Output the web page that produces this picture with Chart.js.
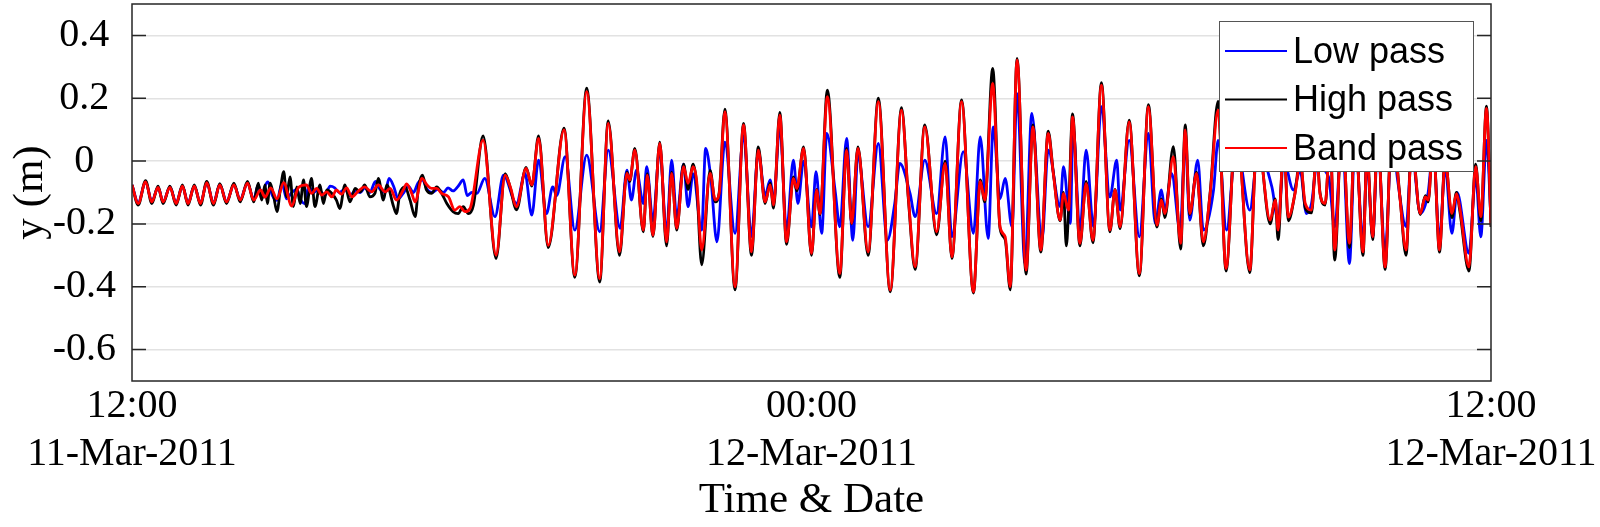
<!DOCTYPE html>
<html lang="en">
<head>
  <meta charset="UTF-8" />
  <title>Filtered water level record, 11-12 Mar 2011</title>
  <script src="https://cdn.jsdelivr.net/npm/chart.js"></script>
  <style>
    body {
      margin: 0;
      background: #fff;
    }
    .chart-box {
      width: 1600px;
      height: 527px;
    }
  </style>
</head>
<body>
  <div class="chart-box">
    <canvas id="waveChart" width="1600" height="527"></canvas>
  </div>

  <script>
    // x axis: hours after 12:00 on 11-Mar-2011
    const xTickValues = [0, 12, 24];
    const xTickTimes = ["12:00", "00:00", "12:00"];
    const xTickDates = ["11-Mar-2011", "12-Mar-2011", "12-Mar-2011"];
    const yTickValues = [-0.6, -0.4, -0.2, 0, 0.2, 0.4];
    const seriesNames = ["Low pass", "High pass", "Band pass"];

    // band pass (red)
    const bandT = [
      0.00, 0.11, 0.24, 0.35, 0.46, 0.55, 0.67, 0.78, 0.89, 0.99, 1.10, 1.21, 1.32, 1.44, 1.55, 1.67, 1.80, 1.91, 2.04, 2.15, 2.27, 2.35, 2.45, 2.56, 2.68, 2.82, 2.94,
      3.08, 3.17, 3.26, 3.35, 3.44, 3.53, 3.61, 3.70, 3.79, 3.88, 4.00, 4.11, 4.23, 4.35, 4.47, 4.56, 4.67, 4.79, 4.85, 4.94, 5.00, 5.12, 5.21, 5.29, 5.38, 5.47, 5.59, 5.70, 5.79, 5.88, 5.97,
      6.20, 6.43, 6.59, 6.68, 6.79, 6.96, 7.06, 7.18, 7.35, 7.63, 7.82, 8.03, 8.26, 8.41, 8.61, 8.74, 8.79, 8.88, 9.03,
      9.10, 9.20, 9.32, 9.44, 9.53, 9.62, 9.74, 9.82, 9.91, 9.97, 10.06, 10.21, 10.30, 10.37, 10.47, 10.65, 10.80, 10.94, 11.06, 11.18, 11.27, 11.33, 11.44, 11.56, 11.68, 11.74, 11.86, 12.00,
      12.09, 12.15, 12.28, 12.50, 12.62, 12.71, 12.82, 13.00, 13.18, 13.39, 13.59, 13.71, 13.83, 14.00, 14.21, 14.36, 14.48, 14.65, 14.86, 14.98, 15.06,
      15.20, 15.33, 15.42, 15.51, 15.63, 15.79, 15.91, 16.05, 16.18, 16.27, 16.39, 16.45, 16.54, 16.61, 16.74, 16.85, 16.97, 17.12, 17.27, 17.36, 17.45, 17.61, 17.79, 17.95,
      18.10, 18.18, 18.24, 18.39, 18.52, 18.60, 18.68, 18.80, 18.92, 19.04, 19.18, 19.32, 19.50, 19.74, 19.87, 20.10, 20.19, 20.24, 20.34, 20.42, 20.54, 20.63, 20.72, 20.83, 20.92,
      20.98, 21.07, 21.16, 21.24, 21.37, 21.50, 21.60, 21.74, 21.81, 21.91, 22.00, 22.13, 22.25, 22.39, 22.50, 22.60, 22.75, 22.84, 22.89, 22.98, 23.09, 23.19, 23.31, 23.39, 23.45, 23.61, 23.73, 23.82, 23.92, 24.00
    ];
    const bandY = [
      -0.076, -0.135, -0.066, -0.13, -0.084, -0.13, -0.084, -0.135, -0.08, -0.135, -0.08, -0.135, -0.069, -0.135, -0.076, -0.13, -0.076, -0.124, -0.07, -0.124, -0.092, -0.115, -0.085, -0.12, -0.069, -0.143, -0.084,
      -0.076, -0.103, -0.087, -0.108, -0.098, -0.114, -0.092, -0.105, -0.085, -0.114, -0.095, -0.082, -0.098, -0.076, -0.098, -0.087, -0.124, -0.092, -0.073, -0.103, -0.13, -0.055, -0.076, -0.087, -0.087, -0.103, -0.114, -0.156, -0.145, -0.161, -0.151,
      0.067, -0.299, -0.045, -0.082, -0.145, -0.023, -0.076, 0.072, -0.268, 0.099, -0.363, 0.221, -0.374, 0.12, -0.289, -0.039, -0.06, 0.035, -0.22,
      -0.045, -0.236, 0.056, -0.257, -0.039, -0.214, -0.018, -0.071, -0.018, -0.06, -0.283, -0.039, -0.124, -0.103, 0.157, -0.40, 0.115, -0.289, 0.035, -0.13, -0.076, -0.14, 0.146, -0.257, -0.055, -0.087, 0.04, -0.294,
      -0.092, -0.167, 0.205, -0.358, 0.035, -0.198, 0.04, -0.289, 0.189, -0.411, 0.162, -0.114, -0.337, 0.109, -0.225, -0.007, -0.305, 0.189, -0.416, -0.065, -0.124,
      0.247, -0.209, -0.241, -0.40, 0.322, -0.347, 0.109, -0.283, 0.088, -0.039, -0.188, -0.104, -0.156, 0.141, -0.262, -0.071, -0.252, 0.242, -0.22, -0.092, -0.209, 0.125, -0.358, 0.173,
      -0.204, -0.124, -0.167, 0.014, -0.262, 0.099, -0.167, -0.039, -0.257, -0.104, 0.162, -0.342, 0.12, -0.347, 0.08, -0.188, -0.124, -0.22, 0.05, -0.178, -0.103, 0.0, -0.135, -0.156, 0.02,
      -0.104, -0.135, 0.06, -0.283, 0.12, -0.262, 0.10, -0.289, 0.02, -0.241, 0.08, -0.337, 0.12, -0.114, -0.283, 0.05, -0.167, -0.114, -0.124, 0.06, -0.283, 0.0, -0.167, -0.104, -0.15, -0.337, -0.018, -0.177, 0.168, -0.204
    ];

    // high pass (black)
    const highT = [
      0.00, 0.11, 0.24, 0.35, 0.46, 0.55, 0.67, 0.78, 0.89, 0.99, 1.10, 1.21, 1.32, 1.44, 1.55, 1.67, 1.80, 1.91, 2.04, 2.15,
      2.23, 2.29, 2.35, 2.39, 2.44, 2.50, 2.56, 2.62, 2.68, 2.73, 2.79, 2.85, 2.91, 2.97, 3.03, 3.08, 3.17, 3.23, 3.32, 3.38,
      3.44, 3.53, 3.61, 3.67, 3.76, 3.85, 3.94, 4.03, 4.11, 4.20, 4.29, 4.35, 4.44, 4.50, 4.62, 4.67, 4.73, 4.82, 4.91, 5.00,
      5.06, 5.13, 5.20, 5.29, 5.38, 5.47, 5.56, 5.67, 5.76, 5.85, 5.94, 6.03,
      6.20, 6.43, 6.59, 6.68, 6.79, 6.96, 7.06, 7.18, 7.35, 7.63, 7.82, 8.03, 8.26, 8.41, 8.61, 8.74, 8.79, 8.88, 9.03,
      9.10, 9.20, 9.32, 9.44, 9.53, 9.62, 9.74, 9.82, 9.91, 9.97, 10.06, 10.21, 10.30, 10.37, 10.47, 10.65, 10.80, 10.94, 11.06, 11.18, 11.27, 11.33, 11.44, 11.56, 11.68, 11.74, 11.86, 12.00,
      12.09, 12.15, 12.28, 12.50, 12.62, 12.71, 12.82, 13.00, 13.18, 13.39, 13.59, 13.71, 13.83, 14.00, 14.21, 14.36, 14.48, 14.65, 14.86, 14.98, 15.06,
      15.20, 15.33, 15.42, 15.51, 15.63, 15.79, 15.91, 16.05, 16.18, 16.27, 16.39, 16.45, 16.50, 16.54, 16.61, 16.74, 16.85, 16.97, 17.12, 17.27, 17.36, 17.45, 17.61, 17.79, 17.95,
      18.10, 18.18, 18.24, 18.39, 18.52, 18.60, 18.68, 18.80, 18.92, 19.04, 19.18, 19.32, 19.50, 19.74, 19.87, 20.10, 20.19, 20.24, 20.34, 20.42, 20.54, 20.63, 20.72, 20.83, 20.92,
      20.98, 21.07, 21.16, 21.24, 21.37, 21.50, 21.60, 21.74, 21.81, 21.91, 22.00, 22.13, 22.25, 22.39, 22.50, 22.60, 22.75, 22.84, 22.89, 22.98, 23.09, 23.19, 23.31, 23.39, 23.45, 23.61, 23.73, 23.82, 23.92, 24.00
    ];
    const highY = [
      -0.076, -0.14, -0.062, -0.135, -0.08, -0.135, -0.08, -0.14, -0.076, -0.14, -0.076, -0.14, -0.065, -0.14, -0.072, -0.135, -0.07, -0.13, -0.065, -0.13,
      -0.07, -0.124, -0.076, -0.135, -0.07, -0.11, -0.161, -0.09, -0.034, -0.114, -0.05, -0.145, -0.082, -0.135, -0.06, -0.145, -0.055, -0.145, -0.076, -0.135,
      -0.092, -0.103, -0.124, -0.151, -0.076, -0.13, -0.087, -0.098, -0.076, -0.114, -0.103, -0.055, -0.124, -0.076, -0.145, -0.167, -0.103, -0.082, -0.124, -0.177,
      -0.082, -0.045, -0.092, -0.103, -0.082, -0.103, -0.135, -0.161, -0.167, -0.145, -0.167, -0.14,
      0.08, -0.31, -0.04, -0.085, -0.155, -0.02, -0.08, 0.08, -0.275, 0.105, -0.37, 0.232, -0.385, 0.128, -0.3, -0.035, -0.065, 0.04, -0.225,
      -0.04, -0.24, 0.06, -0.27, -0.035, -0.22, -0.01, -0.09, -0.01, -0.07, -0.33, -0.03, -0.13, -0.1, 0.165, -0.41, 0.12, -0.3, 0.045, -0.135, -0.07, -0.15, 0.155, -0.265, -0.05, -0.095, 0.045, -0.3,
      -0.09, -0.17, 0.226, -0.37, 0.04, -0.2, 0.045, -0.3, 0.2, -0.416, 0.17, -0.12, -0.345, 0.115, -0.235, 0.0, -0.31, 0.195, -0.42, -0.06, -0.13,
      0.295, -0.215, -0.25, -0.41, 0.327, -0.36, 0.115, -0.29, 0.095, -0.035, -0.19, -0.1, -0.27, -0.16, 0.15, -0.27, -0.065, -0.26, 0.25, -0.225, -0.09, -0.215, 0.13, -0.365, 0.18,
      -0.21, -0.12, -0.18, 0.046, -0.28, 0.115, -0.17, -0.035, -0.27, -0.1, 0.19, -0.35, 0.13, -0.355, 0.09, -0.2, -0.12, -0.25, 0.06, -0.19, -0.1, 0.01, -0.15, -0.165, 0.03,
      -0.1, -0.14, 0.07, -0.315, 0.13, -0.275, 0.11, -0.3, 0.03, -0.25, 0.09, -0.345, 0.13, -0.11, -0.3, 0.06, -0.17, -0.11, -0.13, 0.07, -0.29, 0.01, -0.18, -0.1, -0.16, -0.35, -0.01, -0.19, 0.175, -0.21
    ];

    // low pass (blue)
    const lowT = [
      0.00, 0.11, 0.24, 0.35, 0.46, 0.55, 0.67, 0.78, 0.89, 0.99, 1.10, 1.21, 1.32, 1.44, 1.55, 1.67, 1.80, 1.91, 2.04, 2.15,
      2.23, 2.29, 2.35, 2.40, 2.48, 2.56, 2.65, 2.73, 2.82, 2.91, 2.97, 3.05, 3.12, 3.20, 3.30, 3.40, 3.50, 3.58, 3.66, 3.76,
      3.85, 3.94, 4.03, 4.11, 4.20, 4.30, 4.38, 4.47, 4.54, 4.62, 4.70, 4.80, 4.88, 4.97, 5.05, 5.13, 5.21, 5.30, 5.40, 5.50,
      5.58, 5.67, 5.76, 5.85, 5.92, 6.00,
      6.09, 6.23, 6.41, 6.56, 6.79, 6.94, 7.06, 7.18, 7.32, 7.43, 7.50, 7.65, 7.82, 8.03, 8.26, 8.41, 8.62, 8.74, 8.82, 8.91, 9.03,
      9.09, 9.20, 9.32, 9.44, 9.53, 9.62, 9.74, 9.82, 9.91, 10.06, 10.13, 10.22, 10.33, 10.47, 10.65, 10.80, 10.94, 11.06, 11.18, 11.27, 11.33, 11.44, 11.56, 11.68, 11.76, 11.86, 12.00,
      12.08, 12.18, 12.27, 12.42, 12.50, 12.62, 12.73, 12.82, 13.00, 13.18, 13.34, 13.47, 13.56, 13.74, 13.83, 14.00, 14.21, 14.36, 14.48, 14.68, 14.86, 14.98,
      15.12, 15.21, 15.33, 15.42, 15.54, 15.63, 15.77, 15.89, 16.07, 16.18, 16.39, 16.45, 16.57, 16.62, 16.74, 16.85, 16.98, 17.12, 17.27, 17.39, 17.45, 17.61, 17.79, 17.95, 18.07,
      18.18, 18.24, 18.36, 18.51, 18.60, 18.68, 18.82, 18.92, 19.10, 19.18, 19.33, 19.50, 19.74, 19.89, 20.13, 20.24, 20.34, 20.51, 20.63, 20.74, 20.83, 20.92,
      21.13, 21.24, 21.37, 21.50, 21.60, 21.74, 21.81, 21.91, 22.00, 22.13, 22.25, 22.35, 22.50, 22.60, 22.75, 22.89, 22.98, 23.09, 23.19, 23.31, 23.40, 23.61, 23.73, 23.82, 23.92, 24.00
    ];
    const lowY = [
      -0.076, -0.132, -0.066, -0.128, -0.084, -0.13, -0.082, -0.133, -0.08, -0.133, -0.08, -0.133, -0.07, -0.133, -0.074, -0.128, -0.076, -0.122, -0.07, -0.122,
      -0.075, -0.12, -0.08, -0.066, -0.11, -0.125, -0.07, -0.12, -0.1, -0.09, -0.12, -0.135, -0.08, -0.1, -0.09, -0.11, -0.08, -0.085, -0.1, -0.09,
      -0.11, -0.095, -0.1, -0.085, -0.1, -0.065, -0.09, -0.1, -0.055, -0.08, -0.12, -0.1, -0.08, -0.1, -0.07, -0.06, -0.09, -0.1, -0.09, -0.1,
      -0.085, -0.095, -0.08, -0.06, -0.11, -0.1,
      -0.103, -0.055, -0.177, -0.045, -0.135, -0.039, -0.172, 0.003, -0.167, -0.082, -0.11, 0.014, -0.22, 0.019, -0.225, 0.035, -0.214, -0.029, -0.124, -0.029, -0.135,
      -0.018, -0.19, 0.04, -0.23, 0.003, -0.18, -0.01, -0.145, -0.04, -0.22, 0.04, -0.05, -0.257, 0.06, -0.23, 0.08, -0.24, 0.03, -0.11, -0.06, -0.13, 0.11, -0.22, 0.003, -0.135, 0.0, -0.209,
      -0.034, -0.23, 0.088, -0.098, -0.209, 0.072, -0.252, 0.019, -0.209, 0.056, -0.252, -0.135, -0.007, -0.103, -0.177, 0.003, -0.167, 0.077, -0.241, 0.03, -0.23, 0.077,
      -0.246, 0.109, -0.12, -0.055, -0.209, 0.215, -0.326, 0.152, -0.252, 0.035, -0.145, -0.018, -0.198, 0.109, -0.22, 0.035, -0.209, 0.173, -0.114, 0.003, -0.156, 0.066, -0.241, 0.088, -0.198,
      -0.092, -0.156, -0.039, -0.22, 0.066, -0.188, 0.003, -0.22, -0.092, 0.066, -0.22, 0.06, -0.156, 0.03, -0.082, -0.188, 0.0, -0.092, -0.03, -0.167, -0.135, -0.02,
      -0.05, -0.209, 0.08, -0.326, 0.07, -0.252, 0.0, -0.241, 0.05, -0.294, 0.08, -0.06, -0.209, 0.03, -0.167, -0.1, 0.04, -0.252, -0.02, -0.23, -0.1, -0.294, -0.05, -0.241, 0.066, -0.188
    ];

    const SERIF = '"Liberation Serif", "Times New Roman", serif';
    const SANS = '"Liberation Sans", Arial, sans-serif';

    function toPoints(ts, ys) {
      return ts.map((t, i) => ({ x: t, y: ys[i] }));
    }

    // MATLAB style box, inward ticks and the legend box inside the axes
    const axesBoxPlugin = {
      id: "axesBox",
      afterDatasetsDraw(chart) {
        const { ctx, chartArea: a, scales } = chart;
        const y = scales.y;
        ctx.save();
        ctx.strokeStyle = "#262626";
        ctx.lineWidth = 1.5;
        ctx.beginPath();
        yTickValues.forEach(v => {
          const py = y.getPixelForValue(v);
          ctx.moveTo(a.left, py);
          ctx.lineTo(a.left + 14, py);
          ctx.moveTo(a.right, py);
          ctx.lineTo(a.right - 14, py);
        });
        ctx.stroke();
        ctx.strokeRect(a.left, a.top, a.right - a.left, a.bottom - a.top);

        // legend
        const lx = a.right - 17, ly = a.top + 17;
        const w = 255, h = 151;
        ctx.fillStyle = "#fff";
        ctx.fillRect(lx - w, ly, w, h);
        ctx.strokeStyle = "#555";
        ctx.lineWidth = 1;
        ctx.strokeRect(lx - w + 0.5, ly + 0.5, w - 1, h - 1);
        ctx.font = "36px " + SANS;
        ctx.textBaseline = "middle";
        ctx.textAlign = "left";
        ctx.fillStyle = "#000";
        chart.data.datasets.forEach((ds, i) => {
          const rowY = ly + 30 + i * 48.5;
          ctx.strokeStyle = ds.borderColor;
          ctx.lineWidth = 2;
          ctx.beginPath();
          ctx.moveTo(lx - w + 6, rowY);
          ctx.lineTo(lx - w + 68, rowY);
          ctx.stroke();
          ctx.fillText(ds.label, lx - w + 74, rowY + 2);
        });
        ctx.restore();
      }
    };

    const ctx = document.getElementById("waveChart").getContext("2d");
    new Chart(ctx, {
      type: "line",
      data: {
        datasets: [
          { label: seriesNames[0], data: toPoints(lowT, lowY), borderColor: "#0000ff", order: 3 },
          { label: seriesNames[1], data: toPoints(highT, highY), borderColor: "#000000", order: 2 },
          { label: seriesNames[2], data: toPoints(bandT, bandY), borderColor: "#ff0000", order: 1 }
        ]
      },
      options: {
        responsive: false,
        animation: false,
        layout: { padding: { top: 4, right: 109, left: 0, bottom: 0 } },
        elements: {
          point: { radius: 0 },
          line: { borderWidth: 2.8, cubicInterpolationMode: "monotone", fill: false }
        },
        plugins: {
          legend: { display: false },
          tooltip: { enabled: false }
        },
        scales: {
          x: {
            type: "linear",
            min: 0,
            max: 24,
            afterBuildTicks: s => { s.ticks = xTickValues.map(v => ({ value: v })); },
            afterFit: s => { s.height = 146; s.paddingLeft = 0; s.paddingRight = 0; },
            grid: { display: false, drawTicks: false },
            border: { display: false },
            ticks: {
              autoSkip: false,
              maxRotation: 0,
              padding: 1,
              color: "#000",
              font: { family: SERIF, size: 40, lineHeight: 1.2 },
              callback: (v, i) => [xTickTimes[i], xTickDates[i]]
            },
            title: {
              display: true,
              text: "Time & Date",
              color: "#000",
              font: { family: SERIF, size: 43, lineHeight: 1.2 },
              padding: { top: 0, bottom: 0 }
            }
          },
          y: {
            min: -0.7,
            max: 0.5,
            afterBuildTicks: s => { s.ticks = yTickValues.map(v => ({ value: v })); },
            afterFit: s => { s.width = 132; s.paddingTop = 0; s.paddingBottom = 0; },
            grid: { color: "#e2e2e2", lineWidth: 1.5, drawTicks: false },
            border: { display: false },
            ticks: {
              crossAlign: "center",
              padding: 16,
              color: "#000",
              font: { family: SERIF, size: 40 },
              callback: v => (v === 0 ? "0" : v.toFixed(1))
            },
            title: {
              display: true,
              text: "y (m)",
              color: "#000",
              font: { family: SERIF, size: 43, lineHeight: 1.2 },
              padding: { top: 5, bottom: 0 }
            }
          }
        }
      },
      plugins: [axesBoxPlugin]
    });
  </script>
</body>
</html>
